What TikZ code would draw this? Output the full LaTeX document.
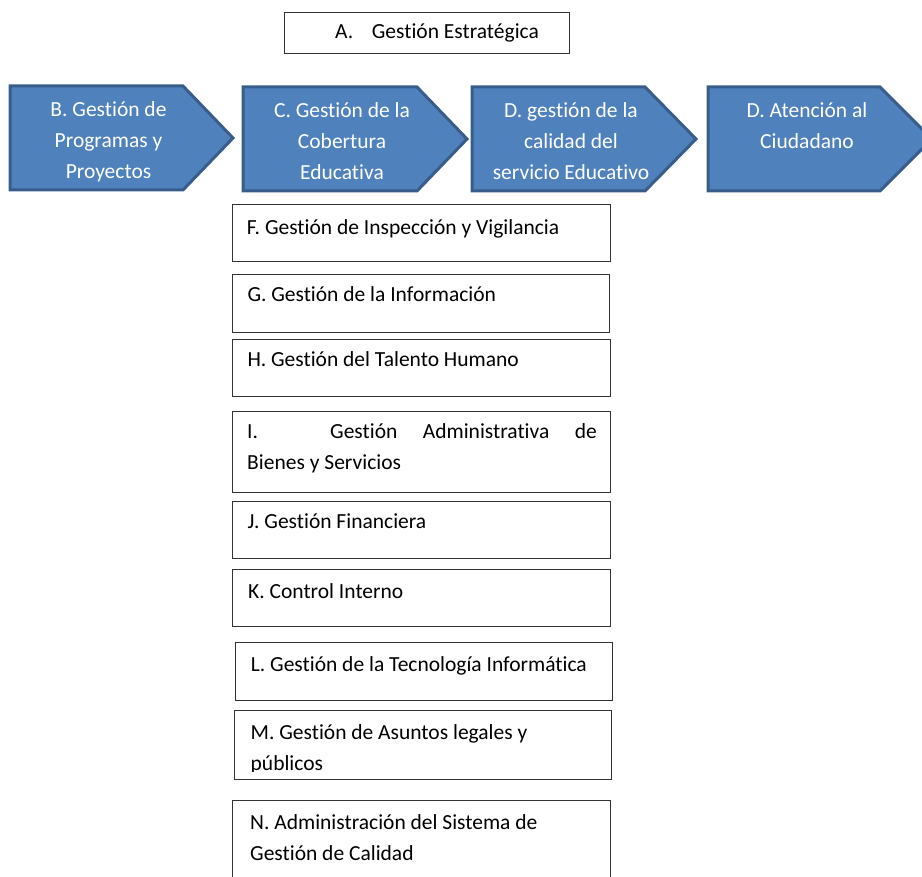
\documentclass[tikz,border=0pt]{standalone}
\usepackage{fontspec}
\setmainfont{Carlito}[Ligatures={NoCommon}]
\definecolor{chevfill}{HTML}{4F81BD}
\definecolor{chevline}{HTML}{385D8A}
\newcommand\cstack[1]{\begin{tabular}[t]{@{}c@{}}#1\end{tabular}}
\newcommand\lstack[1]{\begin{tabular}[t]{@{}l@{}}#1\end{tabular}}
% chevron outline: left, flat end, tip, top, bottom
\newcommand\chevronshape[5]{%
  \draw[chev] (#1,#4) -- (#2,#4) -- (#3,{(#4+#5)/2}) -- (#2,#5) -- (#1,#5) -- cycle;}
\begin{document}
\begin{tikzpicture}[x=1pt,y=-1pt,
  chev/.style={fill=chevfill,draw=chevline,line width=3pt,line join=miter},
  panel/.style={draw=black!80,line width=0.9pt,fill=white},
  txt/.style={inner sep=0pt,anchor=base west,font=\fontsize{21.5}{31}\selectfont},
  chevtxt/.style={inner sep=0pt,anchor=base,text=white,font=\fontsize{21.5}{30.8}\selectfont},
]
\useasboundingbox (0,0) rectangle (922,877);
\clip (0,0) rectangle (922,877);

% strategic management box
\draw[panel] (284.5,12) rectangle (569,53);
\node[txt] (a1) at (335,38.3) {A.};
\node[txt] (a2) at (371.7,38.3) {Gestión Estratégica};

% process chevrons
\chevronshape{10}{183}{233}{86}{190}
\chevronshape{243}{417}{467}{87}{191}
\chevronshape{472}{645}{696}{87}{191}
\chevronshape{708}{880}{932}{87}{191}

\node[chevtxt] (b) at (108.5,117) {\cstack{B. Gestión de\\Programas y\\Proyectos}};
\node[chevtxt] (c) at (342,118) {\cstack{C. Gestión de la\\Cobertura\\Educativa}};
\node[chevtxt] (d) at (571,117.5) {\cstack{D. gestión de la\\calidad del\\servicio Educativo}};
\node[chevtxt] (e) at (807,117.5) {\cstack{D. Atención al\\Ciudadano}};

% support processes
\draw[panel] (232,204) rectangle (610,261.7);
\node[txt] (f) at (246.7,234.5) {F. Gestión de Inspección y Vigilancia};

\draw[panel] (232,274.3) rectangle (609.5,332.3);
\node[txt] (g) at (247.3,301.5) {G. Gestión de la Información};

\draw[panel] (232,339.3) rectangle (610,396.7);
\node[txt] (h) at (247.3,366.5) {H. Gestión del Talento Humano};

\draw[panel] (232.3,411) rectangle (610,492.3);
\node[txt] (i1) at (247,438.3) {I.};
\node[txt] (i2) at (330,438.3) {\makebox[266.7pt][s]{Gestión\hfill Administrativa\hfill de}};
\node[txt] (i3) at (247,470) {Bienes y Servicios};

\draw[panel] (232,501) rectangle (610.7,558.3);
\node[txt] (j) at (247.3,528.3) {J. Gestión Financiera};

\draw[panel] (232,569.3) rectangle (610,626.7);
\node[txt] (k) at (248,598.3) {K. Control Interno};

\draw[panel] (235,642.7) rectangle (612.7,700);
\node[txt] (l) at (250.7,671.7) {L. Gestión de la Tecnología Informática};

\draw[panel] (234,710) rectangle (611.7,779);
\begin{scope}
  \clip (234,710) rectangle (611.7,771);
  \node[txt] (m) at (250.5,739.3) {\lstack{M. Gestión de Asuntos legales y\\públicos}};
\end{scope}

\draw[panel] (232.7,800.7) rectangle (610,892);
\node[txt] (n) at (250,829) {\lstack{N. Administración del Sistema de\\Gestión de Calidad}};
\end{tikzpicture}
\end{document}
